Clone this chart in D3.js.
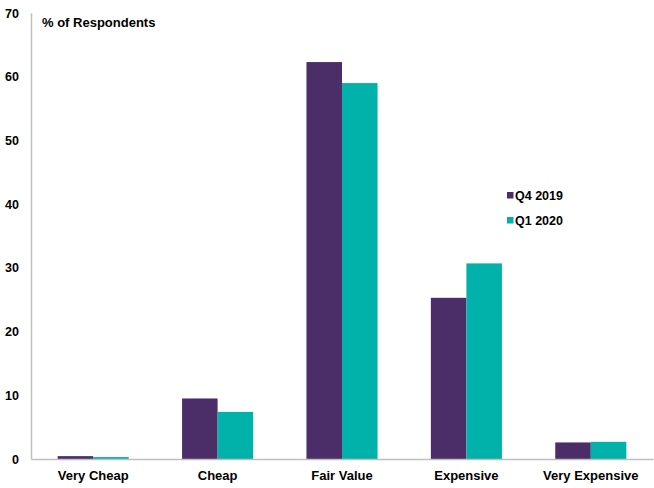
<!DOCTYPE html>
<html><head><meta charset="utf-8">
<script src="https://cdn.jsdelivr.net/npm/d3@7"></script>
<style>body{margin:0;background:#fff;}svg{display:block;font-family:"Liberation Sans",Arial,sans-serif;}</style>
</head><body>
<script>
const categories = ["Very Cheap", "Cheap", "Fair Value", "Expensive", "Very Expensive"];
const seriesNames = ["Q4 2019", "Q1 2020"];
const q4_2019 = [0.45, 9.5, 62.3, 25.3, 2.6];
const q1_2020 = [0.3, 7.4, 59.0, 30.7, 2.7];
const yTicks = [0, 10, 20, 30, 40, 50, 60, 70];
const colors = ["#4B2D67", "#00B2A9"];

(function () {
const W = 654, H = 488;
const mLeft = 31, mRight = 653, mTop = 13, mBottom = 459;
const svg = d3.select("body").append("svg").attr("width", W).attr("height", H);

const x = d3.scaleBand().domain(categories).range([mLeft, mRight]).paddingInner(0).paddingOuter(0);
const x1 = d3.scaleBand().domain(seriesNames).range([0, x.bandwidth()]).paddingInner(0).paddingOuter(0.75);
const y = d3.scaleLinear().domain([0, 70]).range([mBottom, mTop]);

const data = categories.map((c, i) => ({c, vals: [q4_2019[i], q1_2020[i]]}));

const g = svg.append("g");
g.selectAll("g.cat").data(data).join("g").attr("class", "cat")
  .attr("transform", d => `translate(${x(d.c)},0)`)
  .selectAll("rect").data(d => d.vals.map((v, j) => ({s: seriesNames[j], v, j})))
  .join("rect")
  .attr("x", d => x1(d.s)).attr("width", x1.bandwidth())
  .attr("y", d => y(d.v)).attr("height", d => y(0) - y(d.v))
  .attr("fill", d => colors[d.j]);

const yAxis = d3.axisLeft(y).tickValues(yTicks).tickSize(0).tickPadding(12);
const ya = svg.append("g").attr("transform", `translate(${mLeft},0)`).call(yAxis);
ya.select(".domain").attr("stroke", "#BFBFBF").attr("stroke-width", 1.5);
ya.selectAll("text").attr("font-size", "12.5px").attr("font-weight", "bold").attr("fill", "#000")
  .attr("font-family", "'Liberation Sans', Arial, sans-serif");

const xAxis = d3.axisBottom(x).tickSize(0).tickPadding(12);
const xa = svg.append("g").attr("transform", `translate(0,${mBottom})`).call(xAxis);
xa.select(".domain").attr("stroke", "#BFBFBF").attr("stroke-width", 1.5);
xa.selectAll("text").attr("font-size", "13px").attr("font-weight", "bold").attr("fill", "#000")
  .attr("font-family", "'Liberation Sans', Arial, sans-serif");

svg.append("text").attr("x", 42).attr("y", 27).text("% of Respondents")
  .attr("font-size", "13px").attr("font-weight", "bold").attr("fill", "#000");

const lg = svg.append("g").attr("transform", "translate(507,0)");
seriesNames.forEach((s, i) => {
  const yy = 192 + i * 25;
  lg.append("rect").attr("x", 0).attr("y", yy).attr("width", 6.5).attr("height", 6.5).attr("fill", colors[i]);
  lg.append("text").attr("x", 8).attr("y", yy + 7.5).text(s)
    .attr("font-size", "12.5px").attr("font-weight", "bold").attr("fill", "#000");
});
})();
</script>
</body></html>
